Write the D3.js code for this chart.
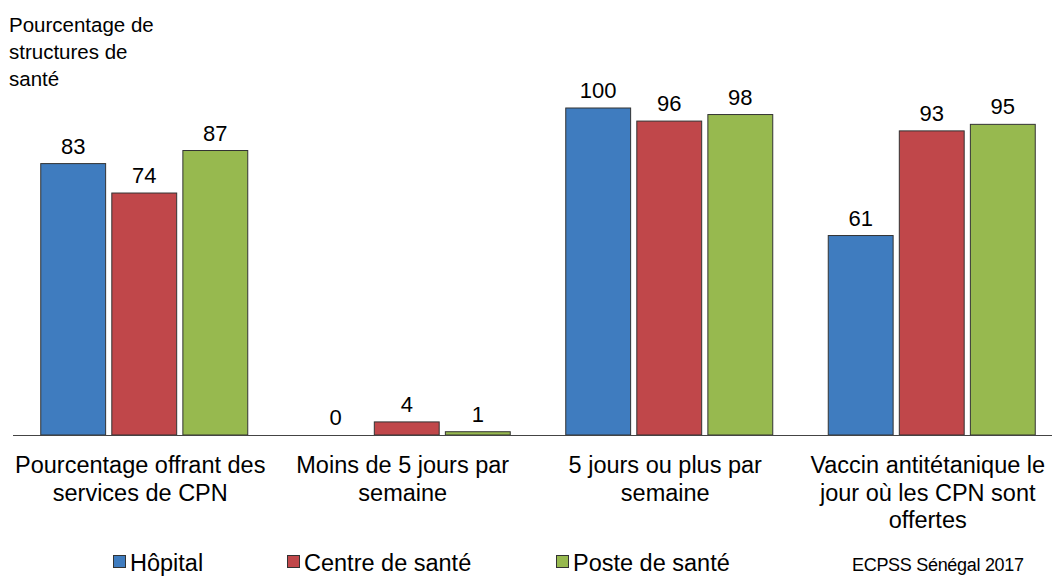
<!DOCTYPE html>
<html><head><meta charset="utf-8">
<script src="https://cdn.jsdelivr.net/npm/d3@7"></script>
<style>body{margin:0;background:#fff}svg{display:block;font-family:"Liberation Sans",Arial,sans-serif}</style>
</head><body><svg id="c" width="1052" height="576"></svg>
<script>
const categories = [
  ["Pourcentage offrant des","services de CPN"],
  ["Moins de 5 jours par","semaine"],
  ["5 jours ou plus par","semaine"],
  ["Vaccin antitétanique le","jour où les CPN sont","offertes"]
];
const seriesNames = ["Hôpital","Centre de santé","Poste de santé"];
const hopital = [83, 0, 100, 61];
const centre = [74, 4, 96, 93];
const poste = [87, 1, 98, 95];
const colors = ["#3F7CBF","#C0474A","#97B94F"];
const yTitle = ["Pourcentage de","structures de","santé"];
const source = "ECPSS Sénégal 2017";

const svg = d3.select("#c");
const series = [hopital, centre, poste];
const base = 435;
const y = d3.scaleLinear().domain([0,100]).range([base, 108]);
const x0 = d3.scaleBand().domain(d3.range(categories.length)).range([13, 1063]).paddingInner(0).paddingOuter(0);
const x1 = d3.scaleBand().domain(d3.range(3)).range([0, 207]).paddingInner(6/69).paddingOuter(0);
const off = (x0.bandwidth() - 207) / 2;

categories.forEach((c, i) => {
  series.forEach((s, j) => {
    const bx = x0(i) + off + x1(j);
    const v = s[i];
    if (v > 0) {
      svg.append("rect").attr("x", bx).attr("y", y(v)).attr("width", x1.bandwidth())
        .attr("height", base - y(v)).attr("fill", colors[j]).attr("stroke", "#333").attr("stroke-width", 1);
    }
    svg.append("text").attr("x", bx + x1.bandwidth()/2).attr("y", y(v) - 10)
      .attr("text-anchor","middle").attr("font-size", 22).attr("fill","#000").text(v);
  });
  const t = svg.append("text").attr("text-anchor","middle").attr("font-size", 23.5).attr("fill","#000");
  c.forEach((line, k) => t.append("tspan").attr("x", x0(i) + x0.bandwidth()/2 - 4).attr("y", 473 + k*27.5).text(line));
});

svg.append("line").attr("x1", 13).attr("x2", 1052).attr("y1", base+0.5).attr("y2", base+0.5)
  .attr("stroke", "#444").attr("stroke-width", 1.2);

yTitle.forEach((l, k) => svg.append("text").attr("x", 9).attr("y", 32 + k*27).attr("font-size", 20.5).attr("fill","#000").text(l));

const legX = [113, 287, 556];
seriesNames.forEach((n, j) => {
  svg.append("rect").attr("x", legX[j]+0.5).attr("y", 555.5).attr("width", 12).attr("height", 12)
    .attr("fill", colors[j]).attr("stroke", "#333").attr("stroke-width", 1);
  svg.append("text").attr("x", legX[j] + 17).attr("y", 571).attr("font-size", 23.5).attr("fill","#000").text(n);
});

svg.append("text").attr("x", 852).attr("y", 571).attr("font-size", 18).attr("letter-spacing", -0.3).attr("fill","#000").text(source);
</script></body></html>
